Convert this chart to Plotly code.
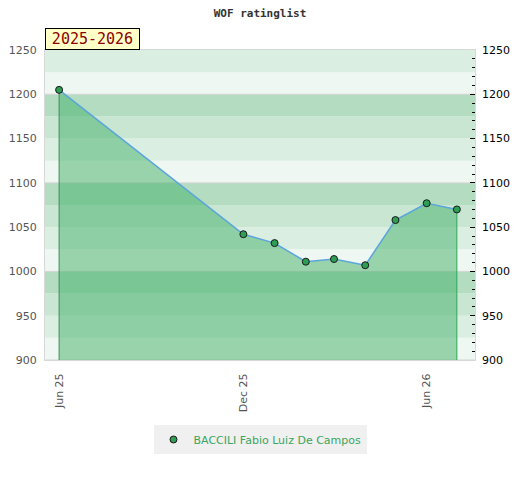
import plotly.graph_objects as go

# rating list snapshots
dates = ['2025-06-01', '2025-12-01', '2026-01-01', '2026-02-01', '2026-03-01',
         '2026-04-01', '2026-05-01', '2026-06-01', '2026-07-01']
ratings = [1205, 1042, 1032, 1011, 1014, 1007, 1058, 1077, 1070]
player = 'BACCILI Fabio Luiz De Campos'
season = '2025-2026'
x_ticks = ['2025-06-01', '2025-12-01', '2026-06-01']

y_min, y_max = 900, 1250
band_colors = ['#eef7f1', '#dbeee2', '#c8e6d2', '#b3dcc1']

fig = go.Figure()

# filled area under the rating line
fig.add_trace(go.Scatter(x=dates + [dates[-1], dates[0]],
                         y=ratings + [y_min, y_min],
                         fill='toself', fillcolor='rgba(66,175,103,0.5)',
                         mode='lines', line=dict(width=0),
                         showlegend=False, hoverinfo='skip'))

fig.add_trace(go.Scatter(x=[dates[0], dates[0]], y=[y_min, ratings[0]],
                         mode='lines', line=dict(color='#3a8f55', width=1),
                         showlegend=False, hoverinfo='skip'))
fig.add_trace(go.Scatter(x=[dates[-1], dates[-1]], y=[y_min, ratings[-1]],
                         mode='lines', line=dict(color='#2aab55', width=1),
                         showlegend=False, hoverinfo='skip'))

fig.add_trace(go.Scatter(x=dates, y=ratings, mode='lines',
                         line=dict(color='#5aa5dc', width=1.5),
                         showlegend=False, hoverinfo='skip'))

fig.add_trace(go.Scatter(x=dates, y=ratings, mode='markers', name=player,
                         marker=dict(color='#2e9e55', size=7,
                                     line=dict(color='#1a1a1a', width=1))))

# invisible trace so the right axis is drawn
fig.add_trace(go.Scatter(x=dates, y=ratings, yaxis='y2', mode='markers',
                         marker=dict(opacity=0), showlegend=False, hoverinfo='skip'))

# background bands every 25 points
for lo in range(y_min, y_max, 25):
    fig.add_shape(type='rect', xref='paper', yref='y', x0=0, x1=1, y0=lo, y1=lo + 25,
                  fillcolor=band_colors[(lo % 100) // 25], line_width=0, layer='below')
for g in range(y_min, y_max + 1, 100):
    fig.add_shape(type='line', xref='paper', yref='y', x0=0, x1=1, y0=g, y1=g,
                  line=dict(color='#d4d4d4', width=1), layer='below')

fig.add_annotation(text=season, xref='paper', yref='paper', x=0, y=1,
                   xanchor='left', yanchor='bottom', showarrow=False,
                   width=93, height=20, bgcolor='#ffffc8', bordercolor='#000000',
                   borderwidth=1, borderpad=0,
                   font=dict(family='DejaVu Sans Mono', size=15, color='#8b0000'))

# page body adds 8px, so the figure is 8px smaller and margins shifted
fig.update_layout(
    width=512, height=472,
    margin=dict(l=37, r=45, t=42, b=120),
    paper_bgcolor='white', plot_bgcolor='white',
    title=dict(text='<b>WOF ratinglist</b>', x=(260 - 8) / 512, xanchor='center',
               y=1 - 5 / 472, yanchor='middle',
               font=dict(family='DejaVu Sans Mono', size=11, color='#333333')),
    font=dict(family='DejaVu Sans', size=11, color='#555555'),
    xaxis=dict(type='date', range=['2025-05-18', '2026-07-19'], automargin=False,
               tickvals=x_ticks, tickformat='%b %y', tickangle=-90,
               ticks='', ticklabelstandoff=8, showgrid=False, zeroline=False,
               showline=True, linecolor='#d8d8d8', mirror=True,
               tickfont=dict(color='#555555', size=11)),
    yaxis=dict(range=[y_min, y_max], dtick=50, showgrid=False, zeroline=False,
               automargin=False, ticklabelstandoff=5,
               showline=True, linecolor='#d8d8d8', mirror=True, ticks='',
               tickfont=dict(color='#555555', size=11)),
    yaxis2=dict(range=[y_min, y_max], dtick=50, overlaying='y', side='right',
                automargin=False, ticklabelstandoff=6,
                showgrid=False, zeroline=False, ticks='inside', ticklen=5,
                tickcolor='#000000',
                minor=dict(dtick=10, ticks='inside', ticklen=3, tickcolor='#000000'),
                tickfont=dict(color='#000000', size=11)),
    legend=dict(x=0.5, xanchor='center', y=-65 / 310, yanchor='top',
                bgcolor='#f0f0f0',
                font=dict(family='DejaVu Sans', color='#3aa560', size=11)),
)

fig.write_html('out.html')
